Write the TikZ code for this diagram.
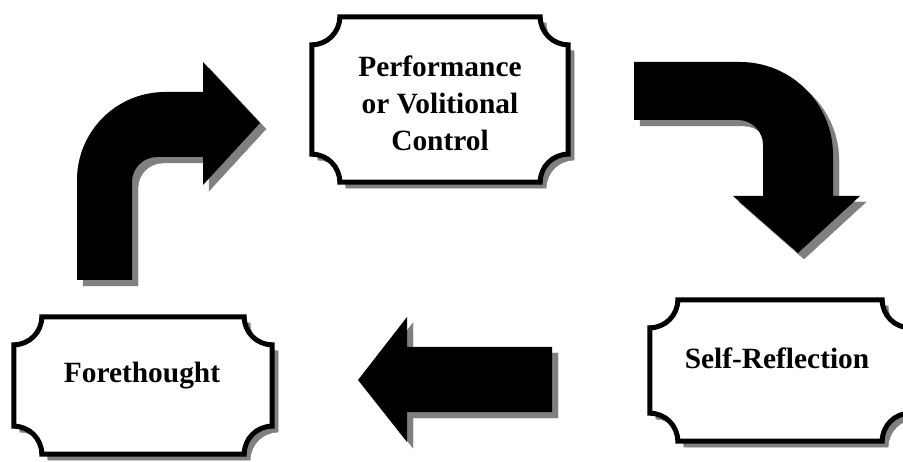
\documentclass[tikz,border=0pt]{standalone}
\usepackage{fontspec}
\setmainfont{Liberation Serif}
\usetikzlibrary{calc}

\definecolor{shadowgray}{RGB}{128,128,128}

\tikzset{
  shadowed/.style={preaction={fill=shadowgray, draw=shadowgray,
      transform canvas={shift={(6pt,-6pt)}}}},
  plaque/.style={draw=black, fill=white, line width=5pt, shadowed},
  blockarrow/.style={fill=black, shadowed},
  slot/.style={inner sep=0pt},
  caption/.style={align=center, font=\bfseries\fontsize{29.4}{37}\selectfont}
}

% outline with hollow corners round a named node
\newcommand{\plaque}[1]{%
  \draw[plaque] ([xshift=28pt]#1.north west) -- ([xshift=-28pt]#1.north east)
    arc[start angle=180, end angle=270, radius=28pt]
    -- ([yshift=28pt]#1.south east)
    arc[start angle=90, end angle=180, radius=28pt]
    -- ([xshift=28pt]#1.south west)
    arc[start angle=0, end angle=90, radius=28pt]
    -- ([yshift=-28pt]#1.north west)
    arc[start angle=270, end angle=360, radius=28pt] -- cycle;}

\begin{document}
\begin{tikzpicture}[x=1pt, y=1pt]
    \useasboundingbox (0,0) rectangle (903,461);
    % Boxes
    \node[slot, minimum width=256pt, minimum height=165pt] (perf) at (440,361.5) {};
    \node[slot, minimum width=258pt, minimum height=137pt] (fore) at (143,75.5) {};
    \node[slot, minimum width=260pt, minimum height=141pt] (self) at (780,90.5) {};
    \plaque{perf}
    \plaque{fore}
    \plaque{self}
    % Texts
    \node[caption] (perftext) at (440,358) {Performance\\or Volitional\\Control};
    \node[caption] (foretext) at (142,85) {Forethought};
    \node[caption] (selftext) at (777,103) {Self-Reflection};
    % Arrow up and right
    \fill[blockarrow] (77,181) -- (132,181) -- (132,279)
        arc[start angle=180, end angle=90, radius=25pt]
        -- (203,304) -- (203,276) -- (260,338) -- (203,399) -- (203,369) -- (165,369)
        arc[start angle=90, end angle=180, radius=88pt] -- cycle;
    % Arrow right and down
    \fill[blockarrow] (634,399) -- (740,399)
        arc[start angle=90, end angle=0, radius=93pt]
        -- (833,265) -- (860,265) -- (798,208) -- (733,265) -- (763,265) -- (763,316)
        arc[start angle=0, end angle=90, radius=25pt] -- (634,341) -- cycle;
    % Arrow left
    \fill[blockarrow] (358,81) -- (407,144) -- (407,114) -- (552,114)
        -- (552,49) -- (407,49) -- (407,19) -- cycle;
\end{tikzpicture}
\end{document}
